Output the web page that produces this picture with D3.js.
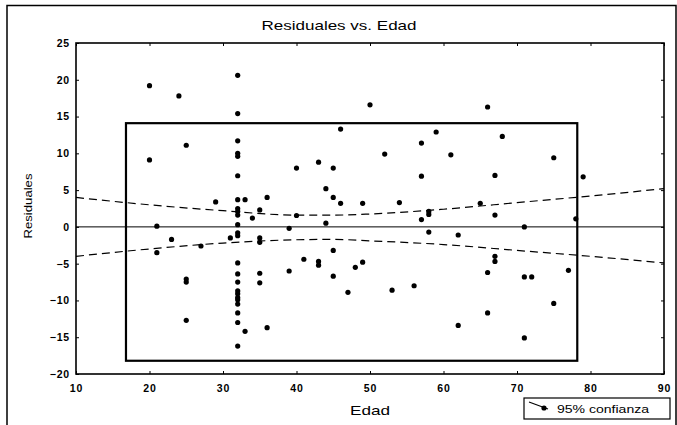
<!DOCTYPE html>
<html>
<head>
<meta charset="utf-8">
<script src="https://cdn.jsdelivr.net/npm/d3@7"></script>
<style>
  body { margin: 0; background: #fff; }
  text { font-family: "Liberation Sans", Arial, sans-serif; fill: #000; }
</style>
</head>
<body>
<div id="chart"></div>
<script>
// data
var edad = [20, 24, 32, 32, 32, 32, 32, 25, 20, 40, 32, 29, 32, 33, 36, 32, 32, 32, 35, 34,
  21, 32, 40, 39, 23, 31, 32, 32, 35, 35, 21, 27, 32, 32, 32, 32, 32, 32, 32, 32,
  32, 32, 32, 25, 25, 25, 35, 35, 33, 36, 39, 41, 43, 43, 45, 45, 44, 50, 66, 46,
  59, 57, 52, 61, 43, 45, 57, 44, 45, 46, 49, 54, 65, 58, 58, 57, 58, 62, 47, 48,
  49, 53, 56, 62, 66, 66, 67, 67, 67, 71, 71, 72, 71, 75, 77, 78, 68, 75, 67, 79];
var residuales = [19.2, 17.8, 20.6, 15.4, 11.7, 10.0, 9.6, 11.1, 9.1, 8.0, 6.95, 3.4, 3.7, 3.7, 4.0, 2.5, 2.1, 1.6, 2.3, 1.2,
  0.1, 0.3, 1.55, -0.2, -1.7, -1.5, -0.8, -1.2, -1.5, -2.1, -3.5, -2.6, -4.9, -6.4, -7.5, -8.7, -9.1, -9.6, -9.9, -10.5,
  -11.7, -13.0, -16.2, -7.1, -7.5, -12.7, -6.3, -7.6, -14.2, -13.7, -6.0, -4.4, -4.7, -5.2, -3.2, -6.7, 0.5, 16.6, 16.3, 13.3,
  12.9, 11.4, 9.9, 9.8, 8.8, 8.0, 6.9, 5.2, 4.0, 3.2, 3.2, 3.3, 3.2, 2.1, 1.7, 1.0, -0.7, -1.1, -8.9, -5.5,
  -4.8, -8.6, -8.0, -13.4, -6.2, -11.7, 1.6, -4.0, -4.7, 0.0, -6.8, -6.8, -15.1, -10.4, -5.9, 1.1, 12.3, 9.4, 7.0, 6.8];

// 95% confidence band
var bandX = [10, 20, 30, 40, 45, 50, 60, 70, 80, 90];
var bandUpper = [4.0, 3.0, 2.2, 1.6, 1.6, 1.75, 2.4, 3.3, 4.2, 5.2];
var bandLower = [-4.0, -3.0, -2.2, -1.75, -1.7, -1.9, -2.4, -3.2, -4.0, -4.9];

// rectangle drawn inside the plot
var boxX = [16.8, 78.2];
var boxY = [-18.2, 14.1];

var xTicks = [10, 20, 30, 40, 50, 60, 70, 80, 90];
var yTicks = [-20, -15, -10, -5, 0, 5, 10, 15, 20, 25];

var svgWidth = 677;
var svgHeight = 425;

var margin = { top: 43, right: 13, bottom: 51, left: 76 };
var width = svgWidth - margin.left - margin.right;
var height = svgHeight - margin.top - margin.bottom;

var svg = d3.select("#chart")
  .append("svg")
  .attr("width", svgWidth)
  .attr("height", svgHeight);

// outer frame of the picture
svg.append("path")
  .attr("d", "M7,425 V5.5 H676 V425")
  .attr("fill", "none")
  .attr("stroke", "#000")
  .attr("stroke-width", 1.5);

var chartGroup = svg.append("g")
  .attr("transform", `translate(${margin.left}, ${margin.top})`);

var xScale = d3.scaleLinear().domain([10, 90]).range([0, width]);
var yScale = d3.scaleLinear().domain([-20, 25]).range([height, 0]);

// axes with inward ticks on all four sides
var axisStyle = function(g) {
  g.select(".domain").remove();
  g.selectAll("line").attr("stroke", "#000").attr("stroke-width", 1);
  g.selectAll("text")
    .style("font-size", "10.5px")
    .style("font-weight", "bold")
    .style("letter-spacing", "0.8px");
};

chartGroup.append("g")
  .attr("transform", `translate(0, ${height})`)
  .call(d3.axisBottom(xScale).tickValues(xTicks).tickSizeInner(-3).tickSizeOuter(0).tickPadding(11))
  .call(axisStyle);

chartGroup.append("g")
  .call(d3.axisLeft(yScale).tickValues(yTicks).tickSizeInner(-3).tickSizeOuter(0).tickPadding(6))
  .call(axisStyle);

chartGroup.append("g")
  .call(d3.axisTop(xScale).tickValues(xTicks).tickSizeInner(-3).tickSizeOuter(0).tickFormat(""))
  .call(axisStyle);

chartGroup.append("g")
  .attr("transform", `translate(${width}, 0)`)
  .call(d3.axisRight(yScale).tickValues(yTicks).tickSizeInner(-3).tickSizeOuter(0).tickFormat(""))
  .call(axisStyle);

// plot frame
chartGroup.append("rect")
  .attr("x", 0).attr("y", 0)
  .attr("width", width).attr("height", height)
  .attr("fill", "none")
  .attr("stroke", "#000")
  .attr("stroke-width", 1.6);

// zero line
chartGroup.append("line")
  .attr("x1", xScale(10)).attr("x2", xScale(90))
  .attr("y1", yScale(0)).attr("y2", yScale(0))
  .attr("stroke", "#000")
  .attr("stroke-width", 1);

// inner rectangle
chartGroup.append("rect")
  .attr("x", xScale(boxX[0]))
  .attr("y", yScale(boxY[1]))
  .attr("width", xScale(boxX[1]) - xScale(boxX[0]))
  .attr("height", yScale(boxY[0]) - yScale(boxY[1]))
  .attr("fill", "none")
  .attr("stroke", "#000")
  .attr("stroke-width", 2.2);

// confidence lines
var bandLine = function(vals) {
  return d3.line()
    .x((d, i) => xScale(bandX[i]))
    .y(d => yScale(d))
    .curve(d3.curveMonotoneX)(vals);
};

[bandUpper, bandLower].forEach(function(vals) {
  chartGroup.append("path")
    .attr("d", bandLine(vals))
    .attr("fill", "none")
    .attr("stroke", "#000")
    .attr("stroke-width", 1.2)
    .attr("stroke-dasharray", "8,5");
});

// points
chartGroup.selectAll("circle.pt")
  .data(edad)
  .enter()
  .append("circle")
  .attr("class", "pt")
  .attr("cx", d => xScale(d))
  .attr("cy", (d, i) => yScale(residuales[i]))
  .attr("r", 2.6)
  .attr("fill", "#000");

// title
svg.append("text")
  .attr("x", 339)
  .attr("y", 30)
  .attr("text-anchor", "middle")
  .attr("textLength", 155)
  .attr("lengthAdjust", "spacingAndGlyphs")
  .style("font-size", "13px")
  .text("Residuales vs. Edad");

// axis labels
svg.append("text")
  .attr("x", margin.left + width / 2)
  .attr("y", 415)
  .attr("text-anchor", "middle")
  .attr("textLength", 40)
  .attr("lengthAdjust", "spacingAndGlyphs")
  .style("font-size", "13px")
  .text("Edad");

svg.append("text")
  .attr("transform", `translate(32, 206) rotate(-90)`)
  .attr("text-anchor", "middle")
  .attr("textLength", 65)
  .attr("lengthAdjust", "spacingAndGlyphs")
  .style("font-size", "11.5px")
  .text("Residuales");

// legend
var legend = svg.append("g").attr("transform", "translate(524, 398)");
legend.append("rect")
  .attr("width", 146).attr("height", 21)
  .attr("fill", "#fff")
  .attr("stroke", "#000")
  .attr("stroke-width", 1.2);
legend.append("line")
  .attr("x1", 5).attr("y1", 4).attr("x2", 24).attr("y2", 11)
  .attr("stroke", "#000").attr("stroke-width", 1.2);
legend.append("circle")
  .attr("cx", 20).attr("cy", 10).attr("r", 2.6).attr("fill", "#000");
legend.append("text")
  .attr("x", 33).attr("y", 15)
  .attr("textLength", 92)
  .attr("lengthAdjust", "spacingAndGlyphs")
  .style("font-size", "10.5px")
  .text("95% confianza");
</script>
</body>
</html>
